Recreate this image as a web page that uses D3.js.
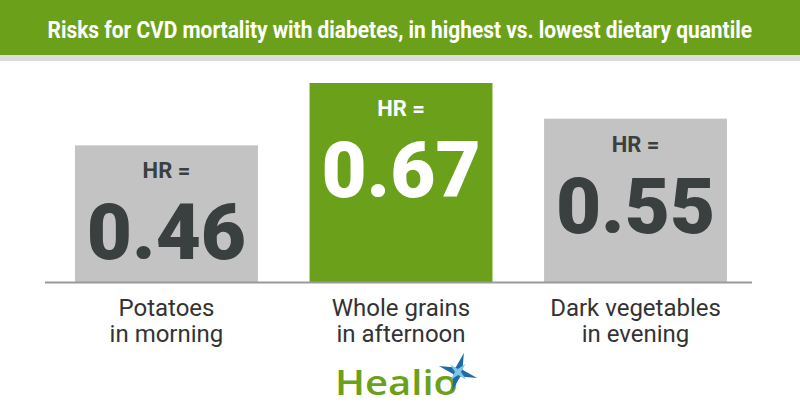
<!DOCTYPE html>
<html>
<head>
<meta charset="utf-8">
<script src="https://cdn.jsdelivr.net/npm/d3@7"></script>
<style>
  html, body { margin: 0; padding: 0; background: #ffffff; }
  svg { display: block; font-family: Roboto, "Noto Sans", sans-serif; }
</style>
</head>
<body>
<svg id="chart" width="800" height="420"></svg>
<script>
const title = "Risks for CVD mortality with diabetes, in highest vs. lowest dietary quantile";
const categories = [["Potatoes", "in morning"], ["Whole grains", "in afternoon"], ["Dark vegetables", "in evening"]];
const values = [0.46, 0.67, 0.55];
const highlighted = [false, true, false];
const valueLabels = ["0.46", "0.67", "0.55"];

const green = "#6ba11a", gray = "#c3c3c3", dark = "#3a3f40";
const svg = d3.select("#chart");

// title bar
svg.append("rect").attr("x", 0).attr("y", 0).attr("width", 800).attr("height", 55).attr("fill", green);
svg.append("rect").attr("x", 0).attr("y", 55).attr("width", 800).attr("height", 6).attr("fill", "#dcdcdc");
const tg = svg.append("g");
const tt = tg.append("text").attr("x", 0).attr("y", 0)
  .attr("fill", "#fff").attr("font-size", 23).attr("font-weight", 700)
  .text(title);
const tw = tt.node().getComputedTextLength();
const sx = Math.min(1, 705 / tw);
tg.attr("transform", `translate(${400 - tw * sx / 2},38) scale(${sx},1)`);

const x = d3.scaleBand().domain(d3.range(values.length)).range([75, 727]).paddingInner(0.22).paddingOuter(0);
const y = d3.scaleLinear().domain([0, 1]).range([282, -15]);

const g = svg.append("g");
const bars = g.selectAll("g.bar").data(values).join("g").attr("class", "bar");
bars.append("rect")
  .attr("x", (d, i) => x(i)).attr("width", x.bandwidth())
  .attr("y", d => y(d)).attr("height", d => y(0) - y(d))
  .attr("fill", (d, i) => highlighted[i] ? green : gray);
bars.append("text")
  .attr("x", (d, i) => x(i) + x.bandwidth() / 2).attr("y", d => y(d) + 33)
  .attr("text-anchor", "middle").attr("font-size", 22).attr("font-weight", 700)
  .attr("fill", (d, i) => highlighted[i] ? "#fff" : dark)
  .text("HR =");
bars.append("text")
  .attr("x", (d, i) => x(i) + x.bandwidth() / 2).attr("y", d => y(d) + 114)
  .attr("text-anchor", "middle").attr("font-size", 78).attr("font-weight", 900)
  .attr("fill", (d, i) => highlighted[i] ? "#fff" : dark)
  .text((d, i) => valueLabels[i]);

// baseline
svg.append("line").attr("x1", 45).attr("x2", 752).attr("y1", y(0) + 0.5).attr("y2", y(0) + 0.5)
  .attr("stroke", "#9a9a9a").attr("stroke-width", 2);

// category labels
const lab = svg.selectAll("text.cat").data(categories).join("text").attr("class", "cat")
  .attr("text-anchor", "middle").attr("font-size", 24).attr("fill", "#333");
lab.each(function(d, i) {
  const t = d3.select(this);
  d.forEach((line, j) => {
    t.append("tspan").attr("x", x(i) + x.bandwidth() / 2).attr("y", 316 + j * 25.5).text(line);
  });
});

// logo
const logo = svg.append("g");
logo.append("text").attr("x", 335).attr("y", 395).attr("font-family", "'Open Sans', sans-serif")
  .attr("font-size", 34).attr("font-weight", 600).attr("fill", "#6ba11a")
  .attr("textLength", 123).attr("lengthAdjust", "spacingAndGlyphs").text("Healio");
const star = (cx, cy, r1, r2, rot) => {
  const pts = [];
  for (let k = 0; k < 8; k++) {
    const r = k % 2 === 0 ? r1 : r2;
    const a = rot + k * Math.PI / 4;
    pts.push([cx + r * Math.cos(a), cy + r * Math.sin(a)]);
  }
  return d3.line()(pts) + "Z";
};
logo.append("path").attr("d", star(458, 372, 20, 5, -Math.PI / 2 + 0.3)).attr("fill", "#1d6aa5");
logo.append("path").attr("d", star(458, 372, 11, 3, -Math.PI / 2 + 0.75)).attr("fill", "#7cc4e8");
</script>
</body>
</html>
